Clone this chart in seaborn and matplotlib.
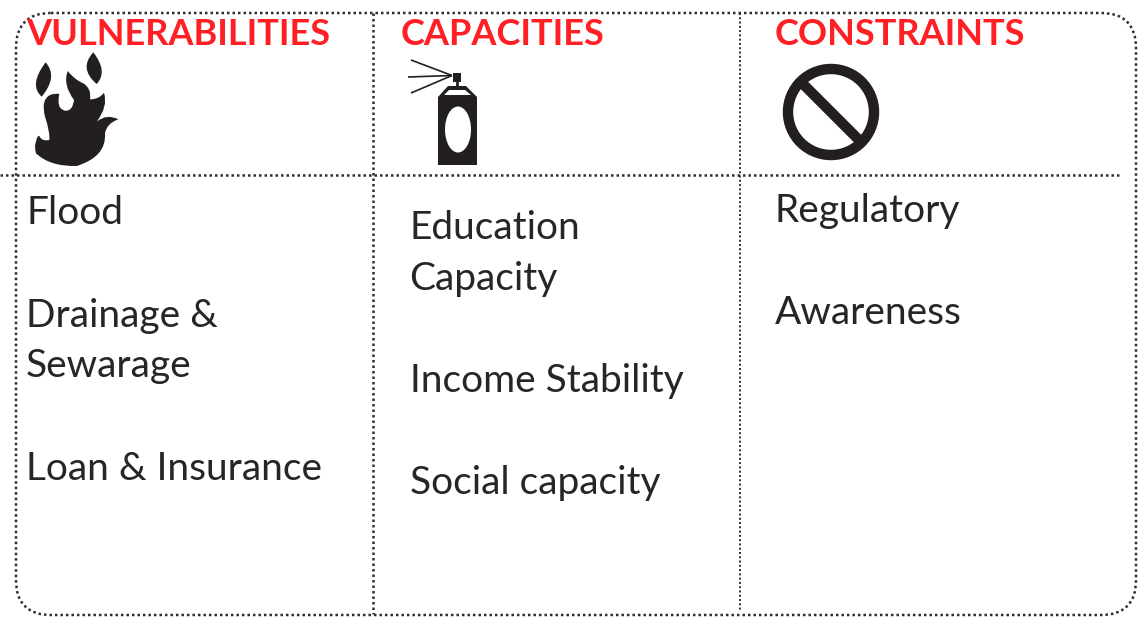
import matplotlib
matplotlib.use('Agg')
import matplotlib.pyplot as plt
import seaborn as sns
from matplotlib.patches import FancyBboxPatch, PathPatch, Circle, Ellipse, Polygon
from matplotlib.path import Path

sns.set_theme(style='white')
plt.rcParams['font.family'] = ['Lato', 'DejaVu Sans']

# column headings and their items
headings = ['VULNERABILITIES', 'CAPACITIES', 'CONSTRAINTS']
heading_x = [26, 401, 775]
vulnerabilities = ['Flood', 'Drainage &', 'Sewarage', 'Loan & Insurance']
vulnerabilities_y = [224, 327, 377, 480]
capacities = ['Education', 'Capacity', 'Income Stability', 'Social capacity']
capacities_y = [239, 290, 392, 494]
constraints = ['Regulatory', 'Awareness']
constraints_y = [222, 324]

dark = '#231f20'
dots = '#2e2e2e'

fig = plt.figure(figsize=(11.44, 6.19), dpi=100)
ax = fig.add_axes([0, 0, 1, 1])
ax.set_xlim(0, 1144)
ax.set_ylim(619, 0)
ax.axis('off')

# dotted frame and grid
dot = (0, (1, 1.2))
frame = FancyBboxPatch((51, 48), 1050, 532, boxstyle='round,pad=35,rounding_size=35',
                       fill=False, ec=dots, lw=1.8, ls=dot)
ax.add_patch(frame)
ax.plot([373, 373], [13, 614], color=dots, lw=1.8, ls=dot)
ax.plot([740, 740], [13, 612], color=dots, lw=1.4, ls=dot)
ax.plot([0, 1120], [175, 175], color=dots, lw=1.8, ls=dot)

# headings
for h, x in zip(headings, heading_x):
    ax.text(x, 45, h, color='#ff2026', fontsize=26, fontweight='bold', va='baseline', ha='left')

# column items
for labels, ys, x in [(vulnerabilities, vulnerabilities_y, 26),
                      (capacities, capacities_y, 409.5),
                      (constraints, constraints_y, 775)]:
    for t, y in zip(labels, ys):
        ax.text(x, y, t, color='#262626', fontsize=28, va='baseline', ha='left')


def blob(pts):
    # closed smooth outline from alternating on-curve and control points
    verts = [pts[0]]
    codes = [Path.MOVETO]
    for i in range(1, len(pts) - 1, 2):
        verts += [pts[i], pts[i + 1]]
        codes += [Path.CURVE3, Path.CURVE3]
    verts.append(pts[0])
    codes.append(Path.CLOSEPOLY)
    return Path([(a / 3, b / 3) for a, b in verts], codes)


# flame icon
flame = [(108, 425), (112, 404), (118, 408), (125, 425), (148, 420), (150, 395), (135, 350),
         (122, 300), (150, 285), (165, 279), (178, 282), (168, 325), (195, 332), (218, 335),
         (222, 300), (188, 255), (203, 213), (225, 240), (250, 250), (275, 265), (270, 298),
         (298, 298), (312, 278), (325, 320), (290, 365), (320, 340), (355, 358), (320, 370),
         (315, 400), (320, 470), (230, 498), (150, 500), (108, 460), (102, 440), (108, 425)]
ax.add_patch(PathPatch(blob(flame), fc=dark, ec='none'))
drop_left = [(137, 187), (175, 230), (125, 290), (85, 255), (137, 187)]
drop_right = [(280, 157), (325, 215), (290, 252), (235, 205), (280, 157)]
ax.add_patch(PathPatch(blob(drop_left), fc=dark, ec='none'))
ax.add_patch(PathPatch(blob(drop_right), fc=dark, ec='none'))

# spray can icon
for x0, y0 in [(411, 60), (408, 77), (411, 93)]:
    ax.plot([x0, 452], [y0, 75.5], color=dark, lw=1.2, solid_capstyle='butt')
ax.add_patch(Polygon([(453, 73), (461, 73), (461, 82), (453, 82)], fc=dark, ec='none'))
ax.plot([457, 457], [82, 88], color=dark, lw=2)
ax.add_patch(Polygon([(438, 165), (477, 165), (477, 97), (466, 86), (448, 86), (438, 97)], fc=dark, ec='none'))
ax.add_patch(Polygon([(444, 95), (449, 90), (465, 90), (471, 95)], fc='white', ec='none'))
ax.add_patch(Ellipse((458, 129.5), 26, 46, fc='white', ec='none'))

# no entry icon
ax.add_patch(Circle((831, 112), 43, fc='none', ec=dark, lw=7.5))
ax.plot([802, 860], [83, 141], color=dark, lw=7.5, solid_capstyle='butt')

fig.savefig('out.png', dpi=100, facecolor='white')
